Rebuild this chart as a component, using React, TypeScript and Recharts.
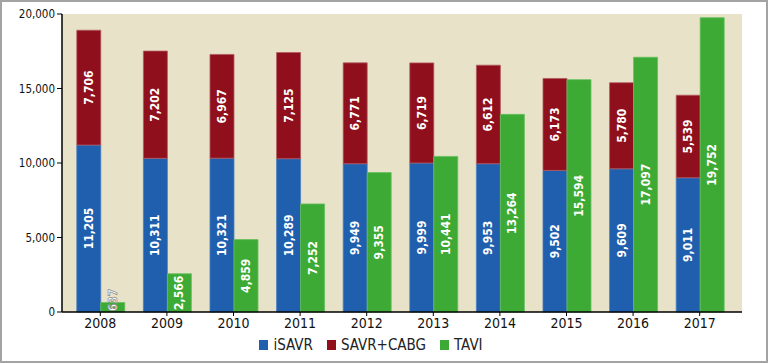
import { BarChart, Bar, XAxis, YAxis, Legend, CartesianGrid, LabelList } from 'recharts'

const years = ['2008', '2009', '2010', '2011', '2012', '2013', '2014', '2015', '2016', '2017']
const isavr = [11205, 10311, 10321, 10289, 9949, 9999, 9953, 9502, 9609, 9011]
const savrCabg = [7706, 7202, 6967, 7125, 6771, 6719, 6612, 6173, 5780, 5539]
const tavi = [637, 2566, 4859, 7252, 9355, 10441, 13264, 15594, 17097, 19752]
const yTicks = [0, 5000, 10000, 15000, 20000]
const legendOrder = ['iSAVR', 'SAVR+CABG', 'TAVI']

const FONT = '"Liberation Sans Narrow", "DejaVu Sans Condensed", Roboto, sans-serif'

const chartData = years.map((year, i) => ({
  year,
  isavr: isavr[i],
  savrCabg: savrCabg[i],
  tavi: tavi[i],
}))

function fmt(v: number) {
  return v.toLocaleString('en-US')
}

// white rotated value inside each bar segment
function BarValue(props: any) {
  const { x, y, width, height, value } = props
  const bottom = y + height
  const small = height < 24
  const cx = x + width / 2
  const cy = small ? bottom - 12 : y + height / 2
  return (
    <text
      x={cx}
      y={cy}
      transform={`rotate(-90 ${cx} ${cy})`}
      textAnchor="middle"
      dominantBaseline="central"
      fill="#fff"
      stroke={small ? '#8a8a8a' : 'none'}
      strokeWidth={small ? 0.7 : 0}
      fontFamily={FONT}
      fontWeight="bold"
      fontSize={12}
    >
      {fmt(value)}
    </text>
  )
}

function LegendContent(props: any) {
  const items = [...(props.payload || [])].sort(
    (a: any, b: any) => legendOrder.indexOf(a.value) - legendOrder.indexOf(b.value)
  )
  return (
    <div style={{ display: 'flex', justifyContent: 'center', gap: 14, fontFamily: FONT, fontSize: 15, color: '#222' }}>
      {items.map((p: any) => (
        <div key={p.value} style={{ display: 'flex', alignItems: 'center' }}>
          <span style={{ width: 9, height: 10, background: p.color, marginRight: 5, display: 'inline-block' }} />
          {p.value}
        </div>
      ))}
    </div>
  )
}

export default function App() {
  return (
    <div style={{ position: 'fixed', left: 0, top: 0, width: 768, height: 363, background: '#fff' }}>
      <BarChart
        width={768}
        height={363}
        data={chartData}
        margin={{ top: 14, right: 26, left: 0, bottom: 3 }}
        barCategoryGap="14.7%"
        barGap={0}
      >
        <CartesianGrid fill="#e8e3c8" stroke="none" horizontal={false} vertical={false} />
        <XAxis
          dataKey="year"
          height={24}
          padding={{ left: 5, right: 9 }}
          tick={{ fontSize: 14, fill: '#111', fontFamily: FONT }}
          tickSize={4}
          axisLine={{ stroke: '#000', strokeWidth: 1.5 }}
          tickLine={{ stroke: '#000' }}
        />
        <YAxis
          width={62}
          domain={[0, 20000]}
          ticks={yTicks}
          tickFormatter={fmt}
          tick={{ fontSize: 11.5, fill: '#111', fontFamily: FONT }}
          tickSize={5}
          axisLine={{ stroke: '#000', strokeWidth: 1.5 }}
          tickLine={{ stroke: '#000' }}
        />
        <Legend verticalAlign="bottom" height={24} content={<LegendContent />} />
        <Bar dataKey="isavr" name="iSAVR" stackId="surg" fill="#1f5fad" stroke="#4a7fc0" strokeWidth={0.8} isAnimationActive={false}>
          <LabelList dataKey="isavr" content={<BarValue />} />
        </Bar>
        <Bar dataKey="savrCabg" name="SAVR+CABG" stackId="surg" fill="#8f0f1c" stroke="#b25a62" strokeWidth={0.8} isAnimationActive={false}>
          <LabelList dataKey="savrCabg" content={<BarValue />} />
        </Bar>
        <Bar dataKey="tavi" name="TAVI" fill="#3daa35" stroke="#66bf5e" strokeWidth={0.8} isAnimationActive={false}>
          <LabelList dataKey="tavi" content={<BarValue />} />
        </Bar>
      </BarChart>
      <div
        style={{
          position: 'absolute',
          inset: 0,
          border: '2px solid #a3a3a3',
          boxSizing: 'border-box',
          pointerEvents: 'none',
        }}
      />
    </div>
  )
}
